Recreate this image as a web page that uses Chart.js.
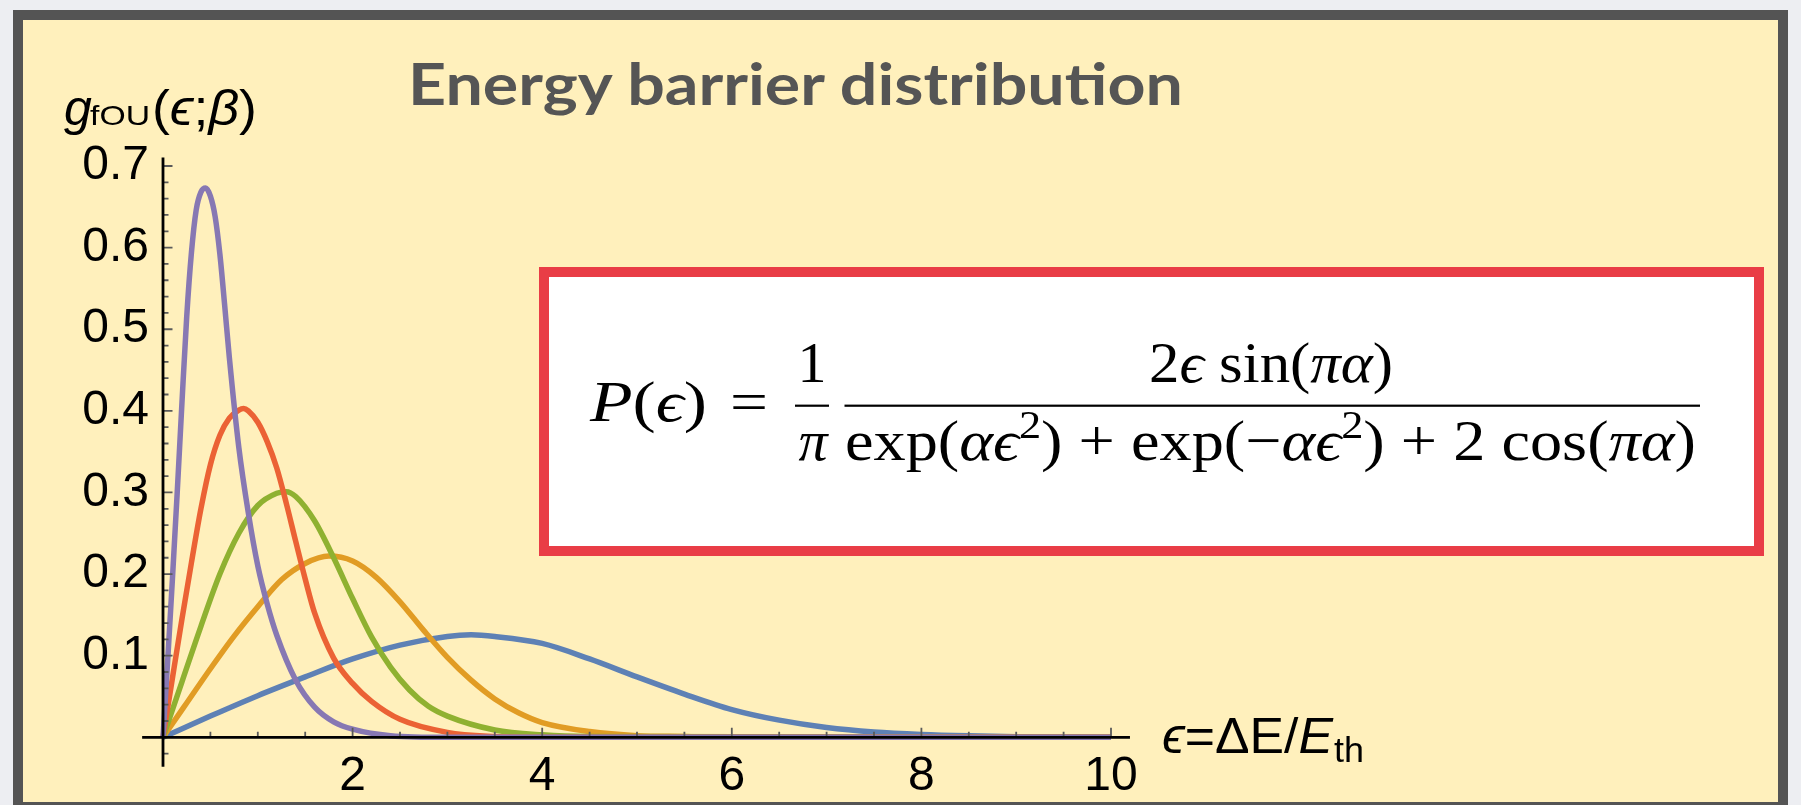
<!DOCTYPE html>
<html>
<head>
<meta charset="utf-8">
<script src="https://cdn.jsdelivr.net/npm/chart.js@4.4.1/dist/chart.umd.min.js"></script>
<style>
  html, body { margin: 0; padding: 0; }
  body { width: 1801px; height: 805px; overflow: hidden; background: #edeef2; position: relative; }
  #frame { position: absolute; left: 13px; top: 10px; width: 1775px; height: 802px; box-sizing: border-box;
           border: 10px solid #545454; background: #fff0bc; }
  #myChart { position: absolute; left: 0; top: 0; }
  #formulaBox { position: absolute; left: 539px; top: 267px; width: 1225px; height: 289px; box-sizing: border-box;
                border: 10px solid #e93d46; background: #fff; }
  #labels { position: absolute; left: 0; top: 0; }
</style>
</head>
<body>
<div id="frame"></div>
<canvas id="myChart" width="1801" height="805"></canvas>
<div id="formulaBox"></div>
<svg id="labels" width="1801" height="805">
  <text x="408" y="105" font-family="Lato, 'Noto Sans', sans-serif" font-weight="700" font-size="58" fill="#555"
        textLength="775" lengthAdjust="spacingAndGlyphs">Energy barrier distribution</text>

  <g font-family="'Liberation Sans', Arial, sans-serif" fill="#000">
    <text x="64" y="125" font-size="50" font-style="italic">g</text>
    <text x="90" y="125" font-size="28" textLength="60" lengthAdjust="spacingAndGlyphs">fOU</text>
    <text x="152" y="125" font-size="50" textLength="105" lengthAdjust="spacingAndGlyphs">(<tspan font-style="italic">ϵ</tspan>;<tspan font-style="italic">β</tspan>)</text>

    <text x="1162" y="753" font-size="50" textLength="171" lengthAdjust="spacingAndGlyphs"><tspan font-style="italic">ϵ</tspan>=ΔE/<tspan font-style="italic">E</tspan></text>
    <text x="1334" y="762" font-size="35" textLength="30" lengthAdjust="spacingAndGlyphs">th</text>
  </g>

  <g font-family="'Liberation Serif', 'Times New Roman', serif" fill="#000" font-size="58">
    <text x="590" y="421" textLength="117" lengthAdjust="spacingAndGlyphs"><tspan font-style="italic">P</tspan>(<tspan font-style="italic">ϵ</tspan>)</text>
    <text x="730" y="421" textLength="38" lengthAdjust="spacingAndGlyphs">=</text>
    <text x="812" y="381.7" text-anchor="middle">1</text>
    <text x="813" y="460" text-anchor="middle" font-style="italic">π</text>
    <rect x="795" y="404.6" width="34" height="2.2"></rect>
    <rect x="844.5" y="404.6" width="855.5" height="2.2"></rect>
    <text x="1149" y="381.7" textLength="244" lengthAdjust="spacingAndGlyphs">2<tspan font-style="italic">ϵ</tspan> sin(<tspan font-style="italic">πα</tspan>)</text>
    <text x="845" y="460" textLength="851" lengthAdjust="spacingAndGlyphs">exp(<tspan font-style="italic">αϵ</tspan><tspan dy="-22" font-size="40">2</tspan><tspan dy="22">) + exp(−</tspan><tspan font-style="italic">αϵ</tspan><tspan dy="-22" font-size="40">2</tspan><tspan dy="22">) + 2 cos(</tspan><tspan font-style="italic">πα</tspan>)</text>
  </g>
</svg>

<script>
// energy barrier eps and g values
var blueEps = [0, 0.5, 1, 1.5, 2, 2.5, 3, 3.25, 3.5, 4, 4.5, 5, 5.5, 6, 6.5, 7, 7.5, 8, 8.5, 9, 10];
var blueG = [0, 0.026, 0.051, 0.074, 0.096, 0.113, 0.1235, 0.1255, 0.1235, 0.115, 0.096, 0.074, 0.053, 0.034, 0.021, 0.012, 0.0065, 0.0035, 0.0018, 0.0008, 0];

var orangeEps = [0, 0.25, 0.5, 0.75, 1.0, 1.25, 1.5, 1.75, 2.0, 2.25, 2.5, 2.75, 3.0, 3.25, 3.5, 3.75, 4, 4.5, 5, 5.5, 6, 10];
var orangeG = [0, 0.042, 0.084, 0.124, 0.16, 0.193, 0.213, 0.222, 0.216, 0.196, 0.166, 0.131, 0.098, 0.07, 0.047, 0.03, 0.018, 0.007, 0.002, 0.001, 0, 0];

var greenEps = [0, 0.2, 0.4, 0.6, 0.8, 1.0, 1.2, 1.3, 1.4, 1.6, 1.8, 2.0, 2.2, 2.4, 2.6, 2.8, 3.0, 3.5, 4, 4.5, 10];
var greenG = [0, 0.068, 0.136, 0.2, 0.25, 0.284, 0.299, 0.301, 0.295, 0.265, 0.22, 0.17, 0.123, 0.086, 0.058, 0.038, 0.026, 0.009, 0.003, 0.001, 0];

var redEps = [0, 0.1, 0.2, 0.3, 0.4, 0.5, 0.6, 0.7, 0.8, 0.85, 0.9, 1.0, 1.1, 1.2, 1.3, 1.4, 1.5, 1.6, 1.8, 2.0, 2.2, 2.5, 3, 3.5, 4, 10];
var redG = [0, 0.073, 0.145, 0.214, 0.28, 0.334, 0.37, 0.391, 0.401, 0.403, 0.400, 0.386, 0.362, 0.33, 0.287, 0.24, 0.194, 0.152, 0.097, 0.066, 0.044, 0.022, 0.006, 0.001, 0, 0];

var purpleEps = [0, 0.05, 0.1, 0.15, 0.2, 0.25, 0.3, 0.35, 0.4, 0.45, 0.5, 0.55, 0.6, 0.65, 0.7, 0.8, 0.9, 1.0, 1.1, 1.2, 1.4, 1.6, 1.8, 2.0, 2.4, 3, 4, 10];
var purpleG = [0, 0.095, 0.195, 0.30, 0.41, 0.515, 0.594, 0.646, 0.668, 0.673, 0.663, 0.638, 0.592, 0.53, 0.465, 0.355, 0.275, 0.21, 0.163, 0.125, 0.07, 0.037, 0.019, 0.01, 0.002, 0, 0, 0];

var xTickLabels = [2, 4, 6, 8, 10];
var yTickLabels = ['0.1', '0.2', '0.3', '0.4', '0.5', '0.6', '0.7'];

function pares(eps, g){
	return eps.map(function(e, i){ return {x: e, y: g[i]}; });
}

function serie(eps, g, cor){
	return {
		data: pares(eps, g),
		borderColor: cor,
		borderWidth: 5.5,
		pointRadius: 0,
		fill: false,
		cubicInterpolationMode: 'monotone',
		clip: false
	};
}

// Mathematica style axes: crossing at origin, ticks pointing inward
var eixosMathematica = {
	id: 'eixosMathematica',
	afterDatasetsDraw: function(chart){
		var ctx = chart.ctx;
		var sx = chart.scales.x, sy = chart.scales.y;
		var x0 = sx.getPixelForValue(0), y0 = sy.getPixelForValue(0);
		ctx.save();
		ctx.strokeStyle = '#5a5a5a';
		ctx.lineWidth = 1.8;
		ctx.beginPath();
		for (var v = 0.5; v <= 10.001; v += 0.5) {
			var px = sx.getPixelForValue(v);
			var len = (Math.abs(v / 2 - Math.round(v / 2)) < 1e-6) ? 9.5 : 5.5;
			ctx.moveTo(px, y0);
			ctx.lineTo(px, y0 - len);
		}
		for (var k = -1; k <= 35; k++) {
			if (k === 0) continue;
			var py = sy.getPixelForValue(k * 0.02);
			var l = (k % 5 === 0) ? 9.5 : 5.5;
			ctx.moveTo(x0, py);
			ctx.lineTo(x0 + l, py);
		}
		ctx.stroke();

		ctx.strokeStyle = '#000';
		ctx.lineWidth = 2.8;
		ctx.beginPath();
		ctx.moveTo(sx.getPixelForValue(-0.22), y0);
		ctx.lineTo(sx.getPixelForValue(10.2), y0);
		ctx.moveTo(x0, sy.getPixelForValue(-0.036));
		ctx.lineTo(x0, sy.getPixelForValue(0.7105));
		ctx.stroke();
		ctx.restore();
	}
};

var fonteTicks = {family: "'Liberation Sans', Arial, sans-serif", size: 48};

var ctx = document.getElementById('myChart').getContext('2d');
var myChart = new Chart(ctx, {
	type: 'line',
	data: {
		datasets: [
			serie(purpleEps, purpleG, '#8778b3'),
			serie(redEps, redG, '#eb6235'),
			serie(greenEps, greenG, '#8fb131'),
			serie(orangeEps, orangeG, '#e19c24'),
			serie(blueEps, blueG, '#5e81b5')
		]
	},
	options: {
		responsive: false,
		animation: false,
		devicePixelRatio: 1,
		layout: { padding: { left: 63, right: 690, top: 166, bottom: 7.7 } },
		plugins: { legend: { display: false }, tooltip: { enabled: false } },
		scales: {
			x: {
				type: 'linear', min: 0, max: 10,
				grid: { display: false, drawTicks: false },
				border: { display: false },
				afterBuildTicks: function(s){ s.ticks = xTickLabels.map(function(v){ return {value: v}; }); },
				afterFit: function(s){ s.height = 60; },
				ticks: { font: fonteTicks, color: '#000', padding: 11, maxRotation: 0, autoSkip: false,
					callback: function(v){ return String(v); } }
			},
			y: {
				type: 'linear', min: 0, max: 0.7,
				grid: { display: false, drawTicks: false },
				border: { display: false },
				afterBuildTicks: function(s){ s.ticks = yTickLabels.map(function(t){ return {value: parseFloat(t)}; }); },
				afterFit: function(s){ s.width = 100; },
				ticks: { font: fonteTicks, color: '#000', padding: 14, autoSkip: false,
					callback: function(v){ return v.toFixed(1); } }
			}
		}
	},
	plugins: [eixosMathematica]
});
</script>
</body>
</html>
